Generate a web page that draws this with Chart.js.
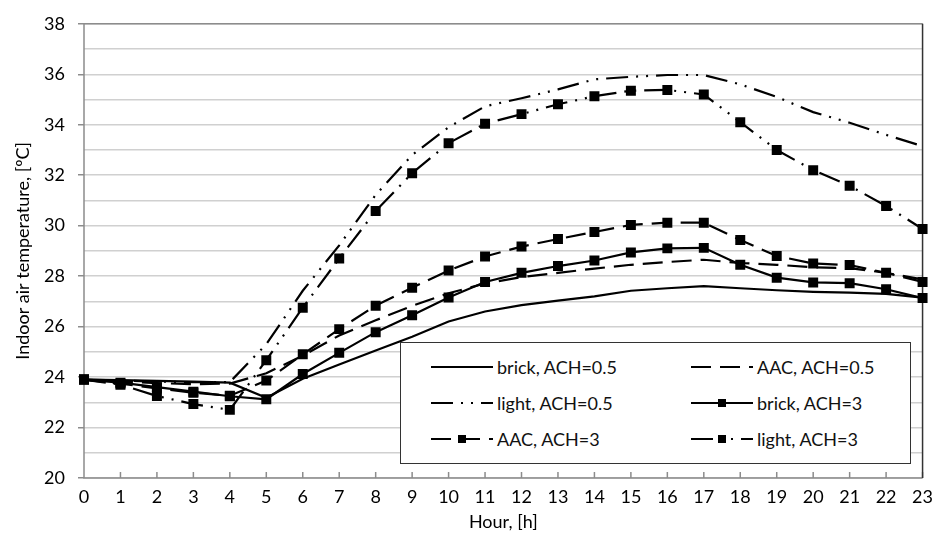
<!DOCTYPE html>
<html>
<head>
<meta charset="utf-8">
<title>Indoor air temperature</title>
<script src="https://cdn.jsdelivr.net/npm/chart.js@4.4.1/dist/chart.umd.min.js"></script>
<style>
  body { margin: 0; background: #fff; }
  .chart__wrap { position: relative; width: 941px; height: 541px; }
  .chart__legend { position: absolute; left: 400px; top: 342px; width: 511px; height: 122px; box-sizing: border-box; border: 1.5px solid #333; background: #fff; }
  .legend__item { position: absolute; display: flex; align-items: center; height: 24px; font: 18px Lato, sans-serif; color: #111; white-space: nowrap; }
  .legend__item canvas { margin-right: 4px; }
</style>
</head>
<body>
<div class="chart__wrap">
  <canvas class="chart" width="941" height="541"></canvas>
  <div class="chart__legend"></div>
</div>
<script>
/*data*/
var hours = ['0', '1', '2', '3', '4', '5', '6', '7', '8', '9', '10', '11', '12', '13', '14', '15', '16', '17', '18', '19', '20', '21', '22', '23'];
var brick05 = [23.9, 23.88, 23.85, 23.82, 23.78, 23.18, 23.93, 24.5, 25.05, 25.6, 26.2, 26.6, 26.85, 27.03, 27.2, 27.42, 27.52, 27.6, 27.52, 27.44, 27.38, 27.35, 27.3, 27.15];
var aac05 = [23.9, 23.82, 23.76, 23.72, 23.74, 24.15, 24.85, 25.65, 26.25, 26.82, 27.32, 27.71, 27.96, 28.13, 28.3, 28.45, 28.56, 28.65, 28.52, 28.45, 28.35, 28.32, 28.13, 27.87];
var light05 = [23.9, 23.86, 23.82, 23.8, 23.8, 25.3, 27.42, 29.22, 31.22, 32.8, 33.9, 34.73, 35.05, 35.4, 35.8, 35.9, 35.97, 35.97, 35.6, 35.1, 34.5, 34.08, 33.6, 33.15];
var brick3 = [23.9, 23.78, 23.6, 23.42, 23.24, 23.12, 24.12, 24.96, 25.78, 26.45, 27.15, 27.77, 28.13, 28.4, 28.62, 28.94, 29.1, 29.12, 28.45, 27.94, 27.75, 27.72, 27.48, 27.13];
var aac3 = [23.9, 23.74, 23.55, 23.38, 23.26, 23.86, 24.9, 25.9, 26.83, 27.54, 28.22, 28.78, 29.17, 29.47, 29.75, 30.03, 30.12, 30.12, 29.43, 28.8, 28.5, 28.44, 28.13, 27.77];
var light3 = [23.9, 23.7, 23.25, 22.93, 22.7, 24.67, 26.75, 28.7, 30.58, 32.08, 33.27, 34.04, 34.42, 34.81, 35.13, 35.35, 35.38, 35.2, 34.1, 33.0, 32.2, 31.58, 30.78, 29.87];

var dashLong = [20, 9];
var dashDotDot = [22, 8, 2, 8, 2, 8];

function lineSet(label, data, dash, marker) {
  return {
    label: label,
    data: data,
    borderColor: '#000',
    backgroundColor: '#000',
    borderWidth: 2.2,
    borderDash: dash,
    pointStyle: 'rect',
    pointRadius: marker ? 5.5 : 0,
    pointHoverRadius: marker ? 5.5 : 0,
    tension: 0,
    fill: false
  };
}

/*frame + inner x ticks*/
var framePlugin = {
  id: 'frame',
  beforeDatasetsDraw: function (chart) {
    var ctx = chart.ctx;
    var a = chart.chartArea;
    var x = chart.scales.x;
    ctx.save();
    ctx.lineWidth = 1.5;
    ctx.strokeStyle = '#8c8c8c';
    ctx.beginPath();
    ctx.moveTo(a.right, a.top);
    ctx.lineTo(a.left, a.top);
    ctx.lineTo(a.left, a.bottom);
    ctx.lineTo(a.right, a.bottom);
    hours.forEach(function (h, i) {
      var px = x.getPixelForValue(i);
      ctx.moveTo(px, a.bottom);
      ctx.lineTo(px, a.bottom - 6);
    });
    ctx.stroke();
    ctx.strokeStyle = '#333';
    ctx.beginPath();
    ctx.moveTo(a.right, a.top);
    ctx.lineTo(a.right, a.bottom);
    ctx.stroke();
    ctx.restore();
  }
};

/*chart*/
Chart.defaults.font.family = 'Lato, sans-serif';
Chart.defaults.color = '#000';

var chart = new Chart(document.querySelector('.chart'), {
  type: 'line',
  data: {
    labels: hours,
    datasets: [
      lineSet('brick, ACH=0.5', brick05, [], false),
      lineSet('AAC, ACH=0.5', aac05, dashLong, false),
      lineSet('light, ACH=0.5', light05, dashDotDot, false),
      lineSet('brick, ACH=3', brick3, [], true),
      lineSet('AAC, ACH=3', aac3, dashLong, true),
      lineSet('light, ACH=3', light3, dashDotDot, true)
    ]
  },
  options: {
    responsive: false,
    animation: false,
    devicePixelRatio: 1,
    layout: { padding: { top: 17, right: 16, left: 0, bottom: 8 } },
    plugins: {
      legend: { display: false },
      tooltip: { enabled: false }
    },
    scales: {
      x: {
        type: 'category',
        offset: false,
        grid: { display: false, drawTicks: false },
        border: { display: false },
        ticks: { font: { size: 18 }, padding: 8, maxRotation: 0, autoSkip: false },
        title: { display: true, text: 'Hour, [h]', font: { size: 18 }, padding: { top: 0, bottom: 0 } },
        afterFit: function (scale) { scale.height = 55; }
      },
      y: {
        min: 20,
        max: 38,
        ticks: {
          stepSize: 1,
          autoSkip: false,
          font: { size: 18 },
          padding: 13,
          callback: function (v) { return v % 2 === 0 ? v : ''; }
        },
        grid: {
          color: '#d0d0d0',
          lineWidth: 1.5,
          tickLength: 6,
          tickColor: function (c) { return c.tick && c.tick.value % 2 === 0 ? '#8c8c8c' : 'rgba(0,0,0,0)'; }
        },
        border: { display: false },
        title: { display: true, text: 'Indoor air temperature, [ºC]', font: { size: 18 }, padding: { top: 12, bottom: 0 } },
        afterFit: function (scale) { scale.width = 84; }
      }
    }
  },
  plugins: [framePlugin]
});

/*legend*/
var legendBox = document.querySelector('.chart__legend');
var legendPos = [[30, 12], [290, 12], [30, 48], [290, 48], [30, 84], [290, 84]];
chart.data.datasets.forEach(function (ds, i) {
  var item = document.createElement('div');
  item.className = 'legend__item';
  item.style.left = legendPos[i][0] + 'px';
  item.style.top = legendPos[i][1] + 'px';
  var c = document.createElement('canvas');
  c.width = 62;
  c.height = 24;
  var g = c.getContext('2d');
  g.strokeStyle = '#000';
  g.lineWidth = 2.2;
  g.setLineDash(ds.borderDash);
  g.beginPath();
  g.moveTo(0, 12);
  g.lineTo(62, 12);
  g.stroke();
  if (ds.pointRadius) {
    g.fillStyle = '#000';
    g.fillRect(27, 8, 8, 8);
  }
  var t = document.createElement('span');
  t.textContent = ds.label;
  item.appendChild(c);
  item.appendChild(t);
  legendBox.appendChild(item);
});
</script>
</body>
</html>
